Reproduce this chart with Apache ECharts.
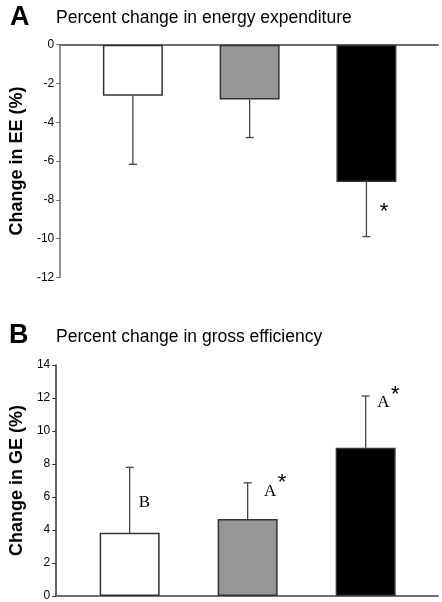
<!DOCTYPE html>
<html>
<head>
<meta charset="utf-8">
<script src="https://cdn.jsdelivr.net/npm/echarts@6/dist/echarts.min.js"></script>
<style>
html,body{margin:0;padding:0;background:#fff;}
#c{width:442px;height:602px;}
</style>
</head>
<body>
<div id="c"></div>
<script>
// ---- data ----
var groupPos = [1, 2, 3];
var barColors = ['#ffffff', '#969696', '#000000'];
var eeMean = [-2.64, -2.83, -7.08];
var eeErrEnd = [-6.17, -4.79, -9.90];
var geMean = [3.83, 4.67, 8.99];
var geErrEnd = [7.80, 6.86, 12.12];
var eeTicks = [0, -2, -4, -6, -8, -10, -12];
var geTicks = [0, 2, 4, 6, 8, 10, 12, 14];
// annotations: [x, y, letter, star]
var eeNotes = [[3.15, -8.42, '', '*']];
var geNotes = [[1.126, 5.69, 'B', ''], [2.19, 6.36, 'A', '*'], [3.15, 11.72, 'A', '*']];

var SANS = 'Liberation Sans, Arial, sans-serif';
var SERIF = 'Liberation Serif, Times New Roman, serif';

function barData(means) {
  return groupPos.map(function (x, i) {
    return { value: [x, means[i]], itemStyle: { color: barColors[i] } };
  });
}
function errData(means, ends) {
  return groupPos.map(function (x, i) { return [x, means[i], ends[i]]; });
}
function errRender(params, api) {
  var x = api.value(0), m = api.value(1), e = api.value(2);
  var p0 = api.coord([x, m]), p1 = api.coord([x, e]);
  var st = { stroke: '#444', lineWidth: 1.3 };
  return {
    type: 'group',
    children: [
      { type: 'line', shape: { x1: p0[0], y1: p0[1], x2: p1[0], y2: p1[1] }, style: st },
      { type: 'line', shape: { x1: p1[0] - 4, y1: p1[1], x2: p1[0] + 4, y2: p1[1] }, style: st }
    ]
  };
}
function noteRender(params, api) {
  var d = params.dataIndex;
  var p = api.coord([api.value(0), api.value(1)]);
  var children = [];
  var notes = params.seriesIndex === 5 ? geNotes : eeNotes;
  var letter = notes[d][2];
  var star = notes[d][3];
  if (letter) {
    children.push({ type: 'text', x: p[0], y: p[1], style: { text: letter, font: '17px ' + SERIF, fill: '#000', textAlign: 'center', textVerticalAlign: 'middle' } });
  }
  if (star) {
    children.push({ type: 'text', x: p[0] + (letter ? 12 : 0), y: p[1] + (letter ? -8 : 4), style: { text: star, font: '22px ' + SANS, fill: '#000', textAlign: 'center', textVerticalAlign: 'middle' } });
  }
  return { type: 'group', children: children };
}

var xBase = {
  type: 'value', min: 0.378, max: 3.613,
  axisLine: { show: true, onZero: true, lineStyle: { color: '#6e6e6e', width: 2 } },
  axisTick: { show: false }, axisLabel: { show: false }, splitLine: { show: false }
};
function yAxis(idx, min, max, name, lineColor) {
  return {
    type: 'value', gridIndex: idx, min: min, max: max, interval: 2,
    name: name, nameLocation: 'middle', nameGap: 29, nameRotate: 90,
    nameTextStyle: { fontFamily: SANS, fontWeight: 'bold', fontSize: 18, color: '#000' },
    axisLine: { show: true, lineStyle: { color: lineColor, width: 1.5 } },
    axisTick: { show: true, length: 4, lineStyle: { color: lineColor } },
    axisLabel: { fontFamily: SANS, fontSize: 12, color: '#000', margin: 6 },
    splitLine: { show: false }
  };
}

var chart = echarts.init(document.getElementById('c'), null, { renderer: 'canvas' });
chart.setOption({
  backgroundColor: '#fff',
  animation: false,
  title: [
    { text: 'A', left: 5, top: -1, textStyle: { fontFamily: SANS, fontWeight: 'bold', fontSize: 27, color: '#000' } },
    { text: 'Percent change in energy expenditure', left: 51, top: 4, textStyle: { fontFamily: SANS, fontWeight: 'normal', fontSize: 17.5, color: '#000' } },
    { text: 'B', left: 4, top: 317, textStyle: { fontFamily: SANS, fontWeight: 'bold', fontSize: 27, color: '#000' } },
    { text: 'Percent change in gross efficiency', left: 51, top: 323, textStyle: { fontFamily: SANS, fontWeight: 'normal', fontSize: 17.5, color: '#000' } }
  ],
  grid: [
    { left: 53, top: 44.7, width: 385, height: 232.6 },
    { left: 53, top: 365, width: 385, height: 232.5 }
  ],
  xAxis: [
    Object.assign({ gridIndex: 0 }, xBase),
    Object.assign({ gridIndex: 1 }, xBase)
  ],
  yAxis: [
    yAxis(0, -12, 0, 'Change in EE (%)', '#6e6e6e'),
    yAxis(1, 0, 14, 'Change in GE (%)', '#333')
  ],
  series: [
    { type: 'bar', xAxisIndex: 0, yAxisIndex: 0, barWidth: 60, data: barData(eeMean),
      itemStyle: { borderColor: '#333', borderWidth: 1.5 } },
    { type: 'bar', xAxisIndex: 1, yAxisIndex: 1, barWidth: 60, data: barData(geMean),
      itemStyle: { borderColor: '#333', borderWidth: 1.5 } },
    { type: 'custom', xAxisIndex: 0, yAxisIndex: 0, renderItem: errRender, data: errData(eeMean, eeErrEnd), z: 1 },
    { type: 'custom', xAxisIndex: 1, yAxisIndex: 1, renderItem: errRender, data: errData(geMean, geErrEnd), z: 1 },
    { type: 'custom', xAxisIndex: 0, yAxisIndex: 0, renderItem: noteRender, data: eeNotes.map(function (n) { return [n[0], n[1]]; }) },
    { type: 'custom', xAxisIndex: 1, yAxisIndex: 1, renderItem: noteRender, data: geNotes.map(function (n) { return [n[0], n[1]]; }) }
  ]
});
</script>
</body>
</html>
